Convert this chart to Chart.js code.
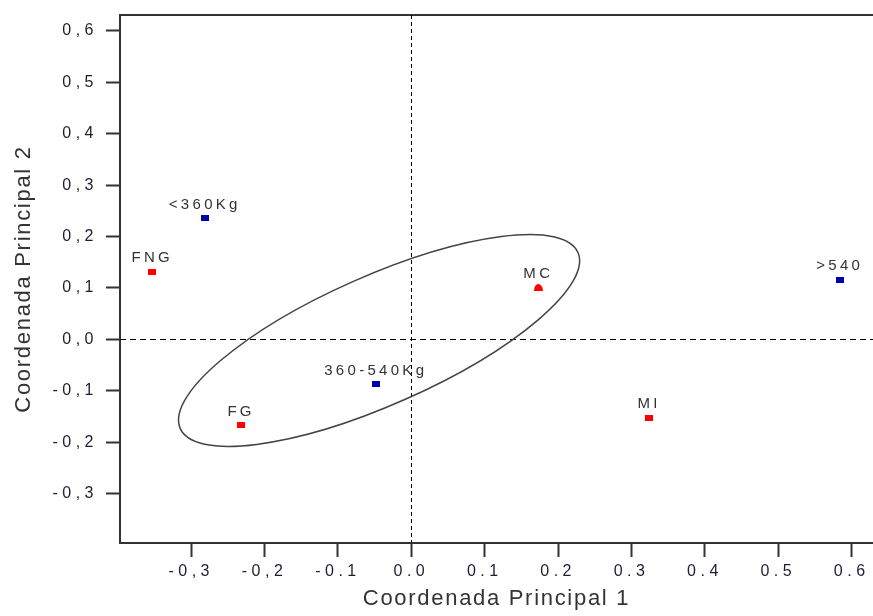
<!DOCTYPE html>
<html>
<head>
<meta charset="utf-8">
<script src="https://cdn.jsdelivr.net/npm/chart.js@4.4.0/dist/chart.umd.min.js"></script>
<style>
  html, body { margin: 0; padding: 0; background: #fff; overflow: hidden; }
  canvas { display: block; }
</style>
</head>
<body>
<canvas id="chart" width="873" height="616"></canvas>
<script>
// Coordenadas principales: grupos (rojo) y pesos (azul)
const redNames = ['FNG', 'MC', 'MI', 'FG'];
const redX = [-0.353, 0.173, 0.324, -0.232];
const redY = [0.132, 0.101, -0.152, -0.167];

const blueNames = ['<360Kg', '360-540Kg', '>540'];
const blueX = [-0.2815, -0.0485, 0.5837];
const blueY = [0.236, -0.087, 0.116];

const xTicks = [-0.3, -0.2, -0.1, 0, 0.1, 0.2, 0.3, 0.4, 0.5, 0.6];
const xTickLabels = ['-0,3', '-0,2', '-0.1', '0.0', '0.1', '0.2', '0.3', '0.4', '0.5', '0.6'];
const yTicks = [-0.3, -0.2, -0.1, 0, 0.1, 0.2, 0.3, 0.4, 0.5, 0.6];
const yTickLabels = ['-0,3', '-0,2', '-0,1', '0,0', '0,1', '0,2', '0,3', '0,4', '0,5', '0,6'];

// elipse: centro y extremos de los semiejes, en unidades de los ejes
const ellipseCenter = [-0.044, -0.002];
const ellipseMajorEnd = [0.227, 0.169];
const ellipseMinorEnd = [-0.009, -0.117];

const FONT = '"Liberation Sans", Arial, sans-serif';

function marker(color, w, h, dome) {
  const c = document.createElement('canvas');
  c.width = w; c.height = h;
  const g = c.getContext('2d');
  g.fillStyle = color;
  if (dome) {
    g.beginPath();
    g.ellipse(w / 2, h, w / 2, h, 0, Math.PI, 2 * Math.PI);
    g.fill();
  } else {
    g.fillRect(0, 0, w, h);
  }
  return c;
}
const redMark = marker('#ff0000', 8, 6);
const domeMark = marker('#ff0000', 9, 7, true);
const blueMark = marker('#0000a8', 8, 6);

const extras = {
  id: 'extras',
  beforeDraw(chart) {
    chart.ctx.letterSpacing = '1.7px'; // títulos de los ejes
  },
  beforeDatasetsDraw(chart) {
    const { ctx, chartArea: a, scales: { x, y } } = chart;
    ctx.save();
    // marco superior
    ctx.strokeStyle = '#333';
    ctx.lineWidth = 2;
    ctx.beginPath();
    ctx.moveTo(a.left, Math.round(a.top));
    ctx.lineTo(a.right, Math.round(a.top));
    ctx.stroke();

    // ejes en cero, punteados
    const x0 = Math.round(x.getPixelForValue(0)) + 0.5;
    const y0 = Math.round(y.getPixelForValue(0)) + 0.5;
    ctx.strokeStyle = '#000';
    ctx.lineWidth = 1;
    ctx.setLineDash([4, 3]);
    ctx.beginPath();
    ctx.moveTo(x0, a.top);
    ctx.lineTo(x0, a.bottom);
    ctx.stroke();
    ctx.setLineDash([6, 4]);
    ctx.beginPath();
    ctx.moveTo(a.left, y0);
    ctx.lineTo(a.right, y0);
    ctx.stroke();
    ctx.setLineDash([]);

    // elipse
    const cx = x.getPixelForValue(ellipseCenter[0]);
    const cy = y.getPixelForValue(ellipseCenter[1]);
    const ux = x.getPixelForValue(ellipseMajorEnd[0]) - cx;
    const uy = y.getPixelForValue(ellipseMajorEnd[1]) - cy;
    const vx = x.getPixelForValue(ellipseMinorEnd[0]) - cx;
    const vy = y.getPixelForValue(ellipseMinorEnd[1]) - cy;
    ctx.save();
    ctx.beginPath();
    ctx.transform(ux, uy, vx, vy, cx, cy);
    ctx.arc(0, 0, 1, 0, 2 * Math.PI);
    ctx.restore();
    ctx.strokeStyle = '#444';
    ctx.lineWidth = 1.5;
    ctx.stroke();
    ctx.restore();

    ctx.letterSpacing = '4.5px'; // etiquetas de los ticks (z = 1)
  },
  afterDatasetsDraw(chart) {
    const ctx = chart.ctx;
    ctx.save();
    ctx.letterSpacing = '3.3px';
    ctx.font = '15px ' + FONT;
    ctx.fillStyle = '#333';
    ctx.textAlign = 'center';
    ctx.textBaseline = 'alphabetic';
    chart.data.datasets.forEach((ds, di) => {
      chart.getDatasetMeta(di).data.forEach((pt, i) => {
        ctx.fillText(ds.names[i], pt.x, pt.y - 9.5);
      });
    });
    ctx.restore();
  },
  afterDraw(chart) {
    chart.ctx.letterSpacing = '0px';
  }
};

new Chart(document.getElementById('chart'), {
  type: 'scatter',
  data: {
    datasets: [
      {
        names: redNames,
        data: redX.map((v, i) => ({ x: v, y: redY[i] })),
        pointStyle: redNames.map(n => n === 'MC' ? domeMark : redMark),
        backgroundColor: '#ff0000'
      },
      {
        names: blueNames,
        data: blueX.map((v, i) => ({ x: v, y: blueY[i] })),
        pointStyle: blueMark,
        backgroundColor: '#0000a8'
      }
    ]
  },
  options: {
    responsive: false,
    animation: false,
    events: [],
    layout: { autoPadding: false, padding: { top: 15, right: 0, bottom: 0, left: 0 } },
    plugins: { legend: { display: false }, tooltip: { enabled: false } },
    scales: {
      x: {
        type: 'linear', min: -0.397, max: 0.629,
        afterFit: s => { s.height = 73; s.paddingLeft = 0; s.paddingRight = 0; },
        afterBuildTicks: s => { s.ticks = xTicks.map(v => ({ value: v })); },
        grid: { drawOnChartArea: false, drawTicks: true, tickLength: 14, tickColor: '#333', tickWidth: 2 },
        border: { color: '#333', width: 2 },
        ticks: {
          z: 1, autoSkip: false, maxRotation: 0, padding: 5,
          color: '#1e1e30', font: { family: FONT, size: 16 },
          callback: (v, i) => xTickLabels[i]
        },
        title: {
          display: true, text: 'Coordenada Principal 1', color: '#333',
          font: { family: FONT, size: 22 }, padding: { top: 0, bottom: 4 }
        }
      },
      y: {
        type: 'linear', min: -0.396, max: 0.631,
        afterFit: s => { s.width = 120; s.paddingTop = 0; s.paddingBottom = 0; },
        afterBuildTicks: s => { s.ticks = yTicks.map(v => ({ value: v })); },
        grid: { drawOnChartArea: false, drawTicks: true, tickLength: 14, tickColor: '#333', tickWidth: 2 },
        border: { color: '#333', width: 2 },
        ticks: {
          z: 1, autoSkip: false, padding: 8,
          color: '#1e1e30', font: { family: FONT, size: 16 },
          callback: (v, i) => yTickLabels[i]
        },
        title: {
          display: true, text: 'Coordenada Principal 2', color: '#333',
          font: { family: FONT, size: 22 }, padding: { top: 11, bottom: 0 }
        }
      }
    }
  },
  plugins: [extras]
});
</script>
</body>
</html>
